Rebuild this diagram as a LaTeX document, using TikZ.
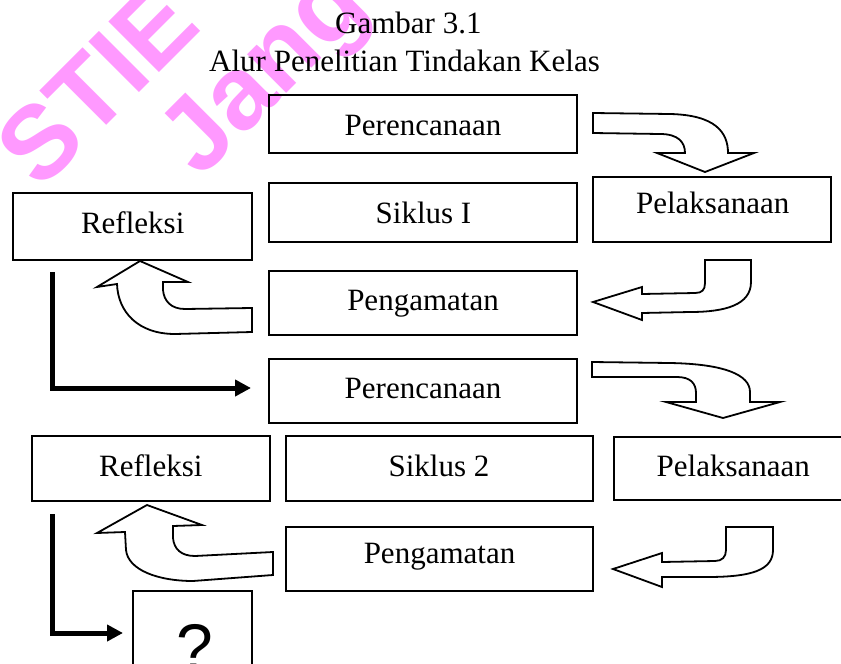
\documentclass[tikz,border=0pt]{standalone}
\usepackage{fontspec}
\setmainfont{Liberation Serif}
\newfontfamily\wmfont{Liberation Sans}
\newfontfamily\qfont{Liberation Sans}
\usetikzlibrary{arrows.meta}
\definecolor{wmpink}{RGB}{255,153,255}
\begin{document}
\begin{tikzpicture}[x=1pt,y=-1pt,
  box/.style={draw, line width=2.2pt, rectangle, inner sep=0pt},
  lbl/.style={anchor=base, inner sep=0pt, font=\fontsize{31}{36}\selectfont},
  ttl/.style={anchor=base west, inner sep=0pt, font=\fontsize{31}{36}\selectfont},
  barrow/.style={draw, fill=white, line width=1.8pt, line join=miter},
  thickarrow/.style={line width=5pt, -{Triangle[length=16pt,width=16pt]}},
  wm/.style={text=wmpink, font=\wmfont\bfseries\fontsize{104}{104}\selectfont, rotate=45, anchor=base west, inner sep=0pt}]
\useasboundingbox (0,0) rectangle (841,664);
\clip (0,0) rectangle (841,664);
\fill[white] (0,0) rectangle (841,664);

% watermark
\node[wm] (wm1) at (40,192) {STIE};
\node[wm] (wm2) at (200,180) {Jang};

% title
\node[ttl] (t1) at (335,33) {Gambar 3.1};
\node[ttl] (t2) at (209,71) {Alur Penelitian Tindakan Kelas};

% boxes
\node[box, minimum width=308pt, minimum height=58pt] (pr1) at (423,124) {};
\node[box, minimum width=308pt, minimum height=59pt] (sk1) at (423,212.5) {};
\node[box, minimum width=308pt, minimum height=64pt] (pg1) at (423,303) {};
\node[box, minimum width=308pt, minimum height=64pt] (pr2) at (423,391) {};
\node[box, minimum width=307pt, minimum height=65pt] (sk2) at (439.5,468.5) {};
\node[box, minimum width=307pt, minimum height=64pt] (pg2) at (439.5,559) {};
\node[box, minimum width=238pt, minimum height=65pt] (pl1) at (712,209.5) {};
\node[box, minimum width=238pt, minimum height=63pt] (pl2) at (733,468.5) {};
\node[box, minimum width=239pt, minimum height=67pt] (rf1) at (132.5,226.5) {};
\node[box, minimum width=238pt, minimum height=65pt] (rf2) at (151,468.5) {};
\node[box, minimum width=119pt, minimum height=99pt] (qb) at (192.5,640.5) {};

% labels
\node[lbl] (pr1t) at (423,135) {Perencanaan};
\node[lbl] (sk1t) at (423.5,223.3) {Siklus I};
\node[lbl] (pg1t) at (423,310) {Pengamatan};
\node[lbl] (pr2t) at (423,398.3) {Perencanaan};
\node[lbl] (sk2t) at (439,476.7) {Siklus 2};
\node[lbl] (pg2t) at (439.5,563.3) {Pengamatan};
\node[lbl] (pl1t) at (712.7,213.3) {Pelaksanaan};
\node[lbl] (pl2t) at (733.3,476.7) {Pelaksanaan};
\node[lbl] (rf1t) at (132.7,233.3) {Refleksi};
\node[lbl] (rf2t) at (150.8,476) {Refleksi};
\node[anchor=base, inner sep=0pt, font=\qfont\fontsize{66}{66}\selectfont] (qt) at (195,670) {?};

% block arrows
\draw[barrow] (593,113) -- (670,114) .. controls (715,115) and (728,132) .. (728,153)
  -- (754,153) -- (705,172) -- (657,153) -- (685,153)
  .. controls (685,142) and (678,134) .. (660,134) -- (593,133) -- cycle;
\draw[barrow] (705,260) -- (751,260) -- (751,282) .. controls (751,305) and (725,312) .. (690,312)
  -- (642,313) -- (642,320) -- (593,302) -- (642,287) -- (642,294) -- (695,293)
  .. controls (702,293) and (705,290) .. (705,283) -- cycle;
\draw[barrow] (252,308) -- (185,309) .. controls (171,309) and (164,301) .. (163,290)
  -- (163,282) -- (188,282) -- (140,261) -- (97,287) -- (117,284)
  .. controls (118,312) and (138,334) .. (175,334) -- (252,332) -- cycle;
\draw[barrow] (592,362) -- (670,363) .. controls (725,364) and (750,375) .. (750,392)
  -- (750,402) -- (780,402) -- (723,418) -- (666,402) -- (696,402) -- (696,393)
  .. controls (696,383) and (690,377) .. (677,377) -- (592,377) -- cycle;
\draw[barrow] (726,527) -- (773,527) -- (773,550) .. controls (773,570) and (752,577) .. (707,577)
  -- (662,577) -- (662,587) -- (613,569) -- (662,553) -- (662,562) -- (715,561)
  .. controls (722,561) and (726,557) .. (726,550) -- cycle;
\draw[barrow] (273,552) -- (195,556) .. controls (181,556) and (174,549) .. (173,538)
  -- (173,526) -- (202,525) -- (147,505) -- (97,533) -- (125,532) -- (126,550)
  .. controls (128,570) and (158,581) .. (193,581) -- (273,575) -- cycle;

% thick L connectors
\coordinate (a1s) at (52,272);
\coordinate (a1e) at (251,388);
\draw[thickarrow] (a1s) |- (a1e);
\coordinate (a2s) at (52,514);
\coordinate (a2e) at (123,633);
\draw[thickarrow] (a2s) |- (a2e);
\end{tikzpicture}
\end{document}
